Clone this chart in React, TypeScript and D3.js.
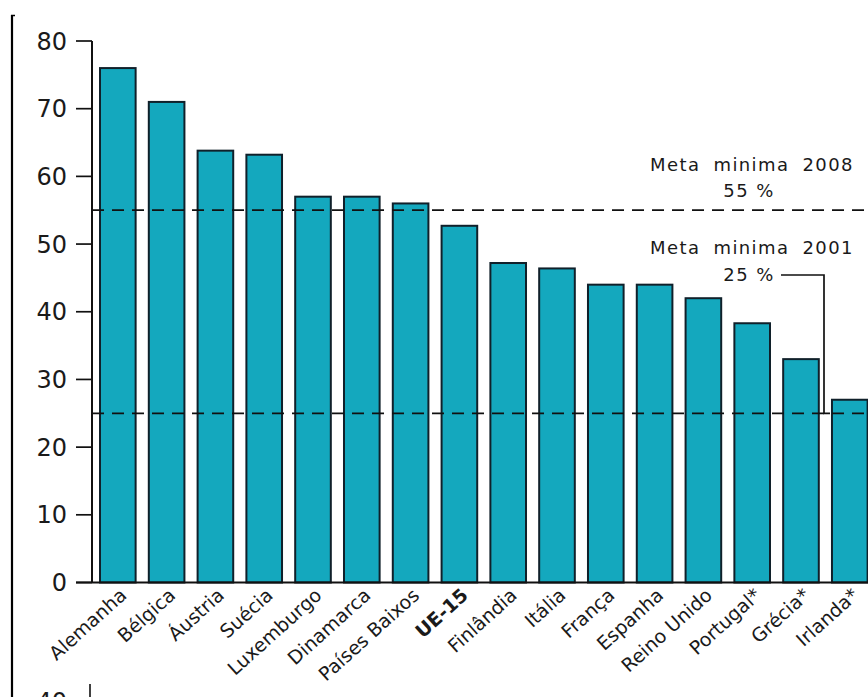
import React from "react";
import * as d3 from "d3";

const categories = [
  "Alemanha", "Bélgica", "Áustria", "Suécia", "Luxemburgo", "Dinamarca",
  "Países Baixos", "UE-15", "Finlândia", "Itália", "França", "Espanha",
  "Reino Unido", "Portugal*", "Grécia*", "Irlanda*",
];
const values = [76, 71, 63.8, 63.2, 57, 57, 56, 52.7, 47.2, 46.4, 44, 44, 42, 38.3, 33, 27];
const yTicks = [0, 10, 20, 30, 40, 50, 60, 70, 80];
const targets = [55, 25];

const W = 868;
const H = 697;

export default function App() {
  const y = d3.scaleLinear().domain([0, 80]).range([582.5, 41]);
  const x = d3
    .scaleBand<string>()
    .domain(categories)
    .range([92, 875.6])
    .paddingInner(0.27)
    .paddingOuter(0.164);
  const font = "'DejaVu Sans', Verdana, sans-serif";
  const ink = "#1a1a1a";
  const leaderY = 275;
  const leaderX = 824;

  return (
    <svg
      width={W}
      height={H}
      style={{ position: "absolute", left: 0, top: 0, background: "#fff" }}
    >
      <rect x={0} y={0} width={W} height={H} fill="#fff" />
      {/* frame */}
      <line x1={12} x2={12} y1={15} y2={H} stroke="#000" strokeWidth={2.2} />
      <line x1={11} x2={15} y1={15.5} y2={15.5} stroke="#000" strokeWidth={1.5} />

      {/* bars */}
      {categories.map((c, i) => (
        <rect
          key={c}
          x={x(c)}
          y={y(values[i])}
          width={x.bandwidth()}
          height={y(0) - y(values[i])}
          fill="#14a8be"
          stroke="#10202a"
          strokeWidth={2}
        />
      ))}

      {/* target dashed lines */}
      {targets.map((t) => (
        <line
          key={t}
          x1={92}
          x2={W}
          y1={y(t)}
          y2={y(t)}
          stroke="#111"
          strokeWidth={1.7}
          strokeDasharray="12 8"
        />
      ))}

      {/* y axis */}
      <line x1={92} x2={92} y1={y(80)} y2={y(0)} stroke="#111" strokeWidth={2} />
      <line x1={76} x2={W} y1={y(0)} y2={y(0)} stroke="#111" strokeWidth={2} />
      {yTicks.map((t) => (
        <g key={t}>
          <line x1={76} x2={92} y1={y(t)} y2={y(t)} stroke="#111" strokeWidth={1.7} />
          <text
            x={67}
            y={y(t)}
            dy="0.36em"
            textAnchor="end"
            fontFamily={font}
            fontSize={24}
            fill={ink}
          >
            {t}
          </text>
        </g>
      ))}

      {/* x labels */}
      {categories.map((c) => {
        const cx = (x(c) as number) + x.bandwidth() / 2 + 10;
        const cy = 597;
        return (
          <text
            key={c}
            transform={`translate(${cx},${cy}) rotate(-42)`}
            textAnchor="end"
            fontFamily={font}
            fontSize={19}
            fontWeight={c === "UE-15" ? "bold" : "normal"}
            fill={ink}
          >
            {c}
          </text>
        );
      })}

      {/* annotations */}
      <text x={752} y={171} textAnchor="middle" fontFamily={font} fontSize={18} fill={ink} letterSpacing={1.4} wordSpacing={6}>
        Meta minima 2008
      </text>
      <text x={749} y={197} textAnchor="middle" fontFamily={font} fontSize={18} fill={ink} letterSpacing={1.4}>
        55 %
      </text>
      <text x={752} y={254} textAnchor="middle" fontFamily={font} fontSize={18} fill={ink} letterSpacing={1.4} wordSpacing={6}>
        Meta minima 2001
      </text>
      <text x={749} y={281} textAnchor="middle" fontFamily={font} fontSize={18} fill={ink} letterSpacing={1.4}>
        25 %
      </text>
      <polyline
        points={`781,${leaderY} ${leaderX},${leaderY} ${leaderX},${y(25)} ${leaderX + 6},${y(25)}`}
        fill="none"
        stroke="#111"
        strokeWidth={1.7}
      />

      {/* cut-off fragment of the chart below */}
      <text x={67} y={710} textAnchor="end" fontFamily={font} fontSize={24} fill={ink}>
        40
      </text>
      <line x1={90} x2={90} y1={684} y2={H} stroke="#111" strokeWidth={1.6} />
    </svg>
  );
}
